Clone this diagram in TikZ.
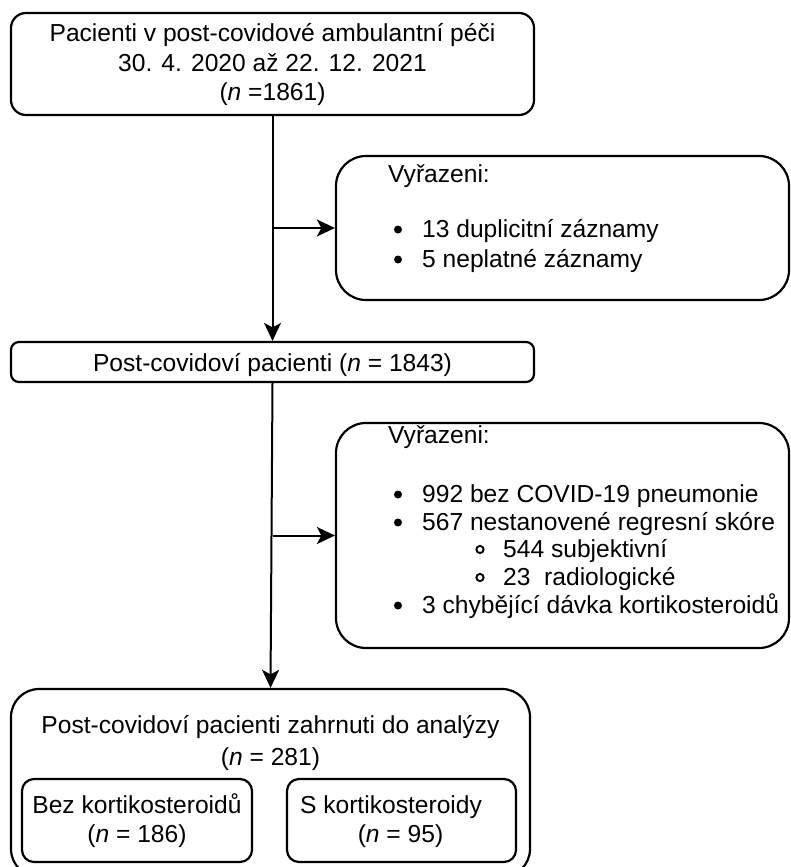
\documentclass[tikz,border=0pt]{standalone}
\usepackage{fontspec}
\setmainfont{Liberation Sans}
\usetikzlibrary{arrows.meta}
\newcommand{\fs}{\fontsize{24.6}{29}\selectfont}
\begin{document}
\begin{tikzpicture}[x=1pt,y=-1pt,
  box/.style={draw, line width=2.2pt, rounded corners=#1, inner sep=0pt},
  txt/.style={anchor=base west, inner sep=0pt, font=\fs},
  ctxt/.style={anchor=base, inner sep=0pt, font=\fs},
  arr/.style={line width=2pt, -{Stealth[length=18pt,width=17pt,inset=4.5pt]}},
  dot/.style={fill=black},
  odot/.style={draw=black, line width=1.9pt}
]
\useasboundingbox (0,0) rectangle (790,867);
\clip (0,0) rectangle (790,867);

% boxes
\node[box=15pt, minimum width=523pt, minimum height=102pt] (top) at (272.5,64) {};
\node[box=30pt, minimum width=453pt, minimum height=144pt] (ex1) at (562.5,228) {};
\node[box=8pt, minimum width=523pt, minimum height=40pt] (mid) at (272.5,362) {};
\node[box=30pt, minimum width=453pt, minimum height=225pt] (ex2) at (562.5,535.5) {};
\node[box=28pt, minimum width=519pt, minimum height=188pt] (bot) at (270.5,783) {};
\node[box=12pt, minimum width=230pt, minimum height=83pt] (bl) at (137,820.5) {};
\node[box=12pt, minimum width=229pt, minimum height=83pt] (br) at (401.5,820.5) {};

% top box text
\node[ctxt] (t1) at (272.5,42) {Pacienti v post-covidové ambulantní péči};
\node[ctxt] (t2) at (272.5,71) {30. 4. 2020 až 22. 12. 2021};
\node[ctxt] (t3) at (272.5,100) {(\textit{n} =1861)};

% middle box text
\node[ctxt] (m1) at (272.5,371) {Post-covidoví pacienti (\textit{n} = 1843)};

% exclusion 1
\node[txt] (e1h) at (388,182) {Vyřazeni:};
\node[txt] (e1a) at (422,237) {13 duplicitní záznamy};
\node[txt] (e1b) at (422,267) {5 neplatné záznamy};
\fill[dot] (398,229.5) circle (4pt);
\fill[dot] (398,259.5) circle (4pt);

% exclusion 2
\node[txt] (e2h) at (388,443) {Vyřazeni:};
\node[txt] (e2a) at (422,502) {992 bez COVID-19 pneumonie};
\node[txt] (e2b) at (422,530) {567 nestanovené regresní skóre};
\node[txt] (e2c) at (503,557) {544 subjektivní};
\node[txt] (e2d) at (503,585) {23\ \ radiologické};
\node[txt] (e2e) at (422,613) {3 chybějící dávka kortikosteroidů};
\fill[dot] (398,494.5) circle (4pt);
\fill[dot] (398,522.5) circle (4pt);
\draw[odot] (480,549.5) circle (3.6pt);
\draw[odot] (480,577.5) circle (3.6pt);
\fill[dot] (398,605.5) circle (4pt);

% bottom box text
\node[ctxt] (b1) at (270.5,733) {Post-covidoví pacienti zahrnuti do analýzy};
\node[ctxt] (b2) at (270.5,765) {(\textit{n} = 281)};
\node[ctxt] (bl1) at (137,813) {Bez kortikosteroidů};
\node[ctxt] (bl2) at (137,842) {(\textit{n} = 186)};
\node[ctxt] (br1) at (391,813) {S kortikosteroidy};
\node[ctxt] (br2) at (400.5,842) {(\textit{n} = 95)};

% connectors
\draw[arr] (top.south) -- (mid.north);
\draw[arr] (top.south |- ex1.west) -- (ex1.west);
\draw[arr] (mid.south) -- (bot.north);
\draw[arr] (mid.south |- ex2.west) -- (ex2.west);
\end{tikzpicture}
\end{document}
